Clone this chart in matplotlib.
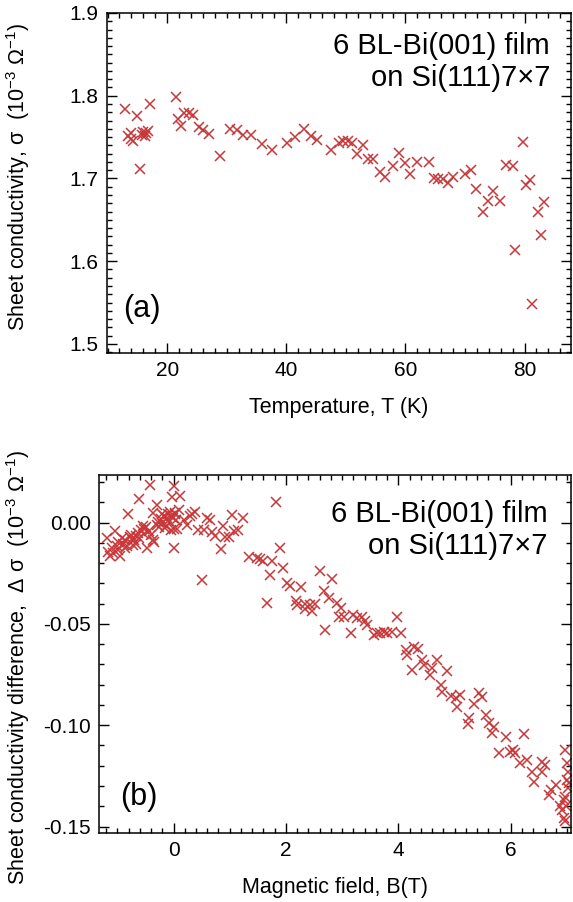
import matplotlib
matplotlib.use("Agg")
import matplotlib.pyplot as plt
from matplotlib.ticker import MultipleLocator, FormatStrFormatter

plt.rcParams['font.family'] = ['Liberation Sans', 'DejaVu Sans']
plt.rcParams['mathtext.fontset'] = 'custom'
plt.rcParams['mathtext.rm'] = 'Liberation Sans'
plt.rcParams['mathtext.it'] = 'Liberation Sans'
plt.rcParams['axes.unicode_minus'] = False

# (a) sheet conductivity vs temperature
temp = [13.0, 13.5, 13.9, 14.0, 14.3, 15.0, 15.4, 15.8, 16.0, 16.2, 16.5, 16.8, 17.1,
        21.5, 21.8, 22.3, 22.9, 23.6, 24.4, 25.3, 26.1, 27.0, 28.8, 30.5, 31.7,
        32.7, 34.1, 35.9, 37.6, 40.1, 41.5, 42.9, 44.1, 45.1, 47.5, 48.8, 49.6,
        50.3, 51.1, 51.9, 52.8, 53.7, 54.5, 55.8, 56.6, 58.0, 59.0, 59.9, 60.8,
        62.0, 63.9, 64.8, 65.5, 66.3, 67.1, 68.0, 70.0, 71.0, 71.9, 73.0, 73.8,
        74.7, 75.9, 76.9, 78.0, 78.4, 79.8, 80.2, 80.9, 81.3, 82.3, 82.7, 83.2]
sigma = [1.784, 1.751, 1.755, 1.748, 1.745, 1.776, 1.711, 1.753, 1.756, 1.751, 1.755, 1.757, 1.790,
         1.798, 1.772, 1.764, 1.779, 1.779, 1.777, 1.762, 1.758, 1.754, 1.727, 1.760, 1.758,
         1.753, 1.752, 1.742, 1.734, 1.743, 1.750, 1.760, 1.751, 1.747, 1.734, 1.743, 1.745,
         1.745, 1.743, 1.730, 1.741, 1.724, 1.723, 1.708, 1.702, 1.715, 1.731, 1.719, 1.706,
         1.720, 1.720, 1.700, 1.699, 1.699, 1.695, 1.702, 1.706, 1.710, 1.687, 1.660, 1.673,
         1.685, 1.673, 1.716, 1.715, 1.613, 1.744, 1.692, 1.698, 1.548, 1.660, 1.632, 1.672]

# (b) conductivity difference vs magnetic field
field = [-1.19, -1.16, -1.13, -1.10, -1.07, -1.04, -1.01, -0.98, -0.98, -0.95, -0.92, -0.89,
         -0.86, -0.86, -0.83, -0.81, -0.78, -0.75, -0.74, -0.72, -0.70, -0.67, -0.66, -0.64,
         -0.61, -0.61, -0.58, -0.55, -0.52, -0.52, -0.49, -0.48, -0.44, -0.42, -0.40, -0.37,
         -0.36, -0.34, -0.30, -0.30, -0.27, -0.25, -0.23, -0.20, -0.20, -0.17, -0.15, -0.14,
         -0.12, -0.10, -0.09, -0.06, -0.05, -0.04, -0.03, -0.01, 0.00, 0.00, 0.01, 0.02,
         0.03, 0.05, 0.06, 0.09, 0.12, 0.19, 0.24, 0.29, 0.33, 0.39, 0.43, 0.50, 0.55,
         0.59, 0.65, 0.68, 0.74, 0.84, 0.88, 0.92, 0.98, 1.04, 1.07, 1.14, 1.23,
         1.34, 1.48, 1.54, 1.60, 1.75, 1.72, 1.83, 1.90, 1.95, 1.66, 2.02, 2.08,
         2.26, 2.17, 2.20, 2.34, 2.43, 2.52, 2.33, 2.46, 2.61, 2.82, 2.67, 2.76,
         2.91, 2.98, 2.94, 3.03, 2.70, 3.15, 3.19, 3.26, 3.35, 3.41, 3.45, 3.56,
         3.62, 3.68, 3.74, 3.80, 3.89, 3.98, 4.04, 4.13, 4.15, 4.27, 4.34, 4.24,
         4.42, 4.45, 4.60, 4.69, 4.57, 4.87, 4.75, 4.78, 4.93, 5.02, 5.10, 5.05,
         5.43, 5.49, 5.34, 5.25, 5.23, 5.55, 5.61, 5.70, 5.67, 5.91, 6.23, 5.79,
         5.99, 6.04, 6.08, 6.17, 6.29, 6.38, 6.41, 6.56, 6.60, 6.56, 6.68, 6.72,
         6.80, 6.88, 6.91, 6.94, 6.96, 6.97, 7.00, 7.02, 7.00, 7.02, 6.97, 6.99,
         6.94, 7.03]
dsigma = [-0.0077, -0.0143, -0.0164, -0.0125, -0.0151, -0.0044, -0.0118, -0.0094, -0.0135, -0.0164, -0.0077, -0.0105,
          -0.0086, -0.0125, -0.0118, 0.0041, -0.0072, -0.0061, -0.0080, -0.0110, -0.0086, -0.0066, -0.0105, -0.0053,
          0.0115, -0.0077, -0.0036, -0.0016, -0.0030, -0.0055, -0.0023, -0.0127, -0.0044, 0.0186, -0.0061, -0.0086,
          0.0046, -0.0094, 0.0087, -0.0010, 0.0005, -0.0023, 0.0016, 0.0000, 0.0040, 0.0033, -0.0025, -0.0016,
          0.0021, 0.0010, 0.0043, 0.0054, 0.0030, -0.0036, 0.0128, 0.0021, 0.0178, -0.0128, -0.0030, 0.0040,
          0.0046, 0.0013, -0.0030, 0.0063, 0.0132, 0.0013, -0.0012, 0.0030, 0.0043, 0.0054, -0.0039, -0.0286, -0.0036,
          0.0021, 0.0013, -0.0049, -0.0066, -0.0132, -0.0016, -0.0072, -0.0069, 0.0038, -0.0044, -0.0039, 0.0021,
          -0.0168, -0.0176, -0.0181, -0.0192, -0.0192, -0.0258, 0.0099, -0.0127, -0.0225, -0.0398, -0.0299, -0.0313,
          -0.0319, -0.0385, -0.0406, -0.0401, -0.0406, -0.0401, -0.0428, -0.0436, -0.0238, -0.0280, -0.0340, -0.0373,
          -0.0398, -0.0423, -0.0464, -0.0464, -0.0530, -0.0546, -0.0456, -0.0472, -0.0464, -0.0488, -0.0505, -0.0554,
          -0.0543, -0.0546, -0.0538, -0.0543, -0.0538, -0.0467, -0.0543, -0.0628, -0.0653, -0.0615, -0.0623, -0.0730,
          -0.0678, -0.0702, -0.0719, -0.0678, -0.0752, -0.0735, -0.0801, -0.0834, -0.0855, -0.0867, -0.0850, -0.0908,
          -0.0842, -0.0859, -0.0895, -0.0965, -0.0993, -0.0949, -0.0987, -0.1007, -0.1039, -0.1056, -0.1044, -0.1138,
          -0.1130, -0.1122, -0.1138, -0.1188, -0.1174, -0.1229, -0.1278, -0.1184, -0.1196, -0.1229, -0.1344, -0.1319,
          -0.1294, -0.1401, -0.1418, -0.1459, -0.1475, -0.1122, -0.1188, -0.1229, -0.1270, -0.1311, -0.1352, -0.1401,
          -0.1368, -0.1286]

red = '#c8383a'
fs_tick = 15
fs_label = 15.5
fs_text = 21

fig = plt.figure(figsize=(5.73, 9.02), dpi=100)
ax1 = fig.add_axes([0.1867, 0.6086, 0.8098, 0.377])
ax2 = fig.add_axes([0.1733, 0.0765, 0.8232, 0.397])

ax1.plot(temp, sigma, 'x', color=red, ms=7.5, mew=1.1)
ax2.plot(field, dsigma, 'x', color=red, ms=7.5, mew=1.1)

ax1.set_xlim(9.9, 87.8)
ax1.set_ylim(1.489, 1.9)
ax1.xaxis.set_major_locator(MultipleLocator(20))
ax1.xaxis.set_minor_locator(MultipleLocator(2))
ax1.yaxis.set_major_locator(MultipleLocator(0.1))
ax1.yaxis.set_minor_locator(MultipleLocator(0.01))
ax1.yaxis.set_major_formatter(FormatStrFormatter('%.1f'))

ax2.set_xlim(-1.32, 7.07)
ax2.set_ylim(-0.1532, 0.0235)
ax2.xaxis.set_major_locator(MultipleLocator(2))
ax2.xaxis.set_minor_locator(MultipleLocator(0.2))
ax2.yaxis.set_major_locator(MultipleLocator(0.05))
ax2.yaxis.set_minor_locator(MultipleLocator(0.01))
ax2.yaxis.set_major_formatter(FormatStrFormatter('%.2f'))

for ax in (ax1, ax2):
    for s in ax.spines.values():
        s.set_linewidth(1.1)
    ax.tick_params(which='both', direction='in', top=True, right=True,
                   width=1.0, labelsize=fs_tick, pad=6)
    ax.tick_params(which='major', length=7)
    ax.tick_params(which='minor', length=3.5)

ax1.set_xlabel('Temperature, T (K)', fontsize=fs_label, labelpad=12)
ax1.set_ylabel('Sheet conductivity, σ  (10$^{-3}$ Ω$^{-1}$)', fontsize=fs_label)
ax1.yaxis.set_label_coords(-0.162, 0.518)
ax2.set_xlabel('Magnetic field, B(T)', fontsize=fs_label, labelpad=12)
ax2.set_ylabel('Sheet conductivity difference,  Δ σ  (10$^{-3}$ Ω$^{-1}$)',
               fontsize=fs_label)
ax2.yaxis.set_label_coords(-0.143, 0.461)

ax1.text(0.955, 0.945, '6 BL-Bi(001) film\non Si(111)7×7', transform=ax1.transAxes,
         ha='right', va='top', fontsize=fs_text, linespacing=1.2)
ax1.text(0.035, 0.085, '(a)', transform=ax1.transAxes, ha='left', va='bottom',
         fontsize=fs_text + 1)
ax2.text(0.95, 0.93, '6 BL-Bi(001) film\non Si(111)7×7', transform=ax2.transAxes,
         ha='right', va='top', fontsize=fs_text, linespacing=1.2)
ax2.text(0.045, 0.06, '(b)', transform=ax2.transAxes, ha='left', va='bottom',
         fontsize=fs_text + 1)

fig.savefig('out.png', dpi=100)
